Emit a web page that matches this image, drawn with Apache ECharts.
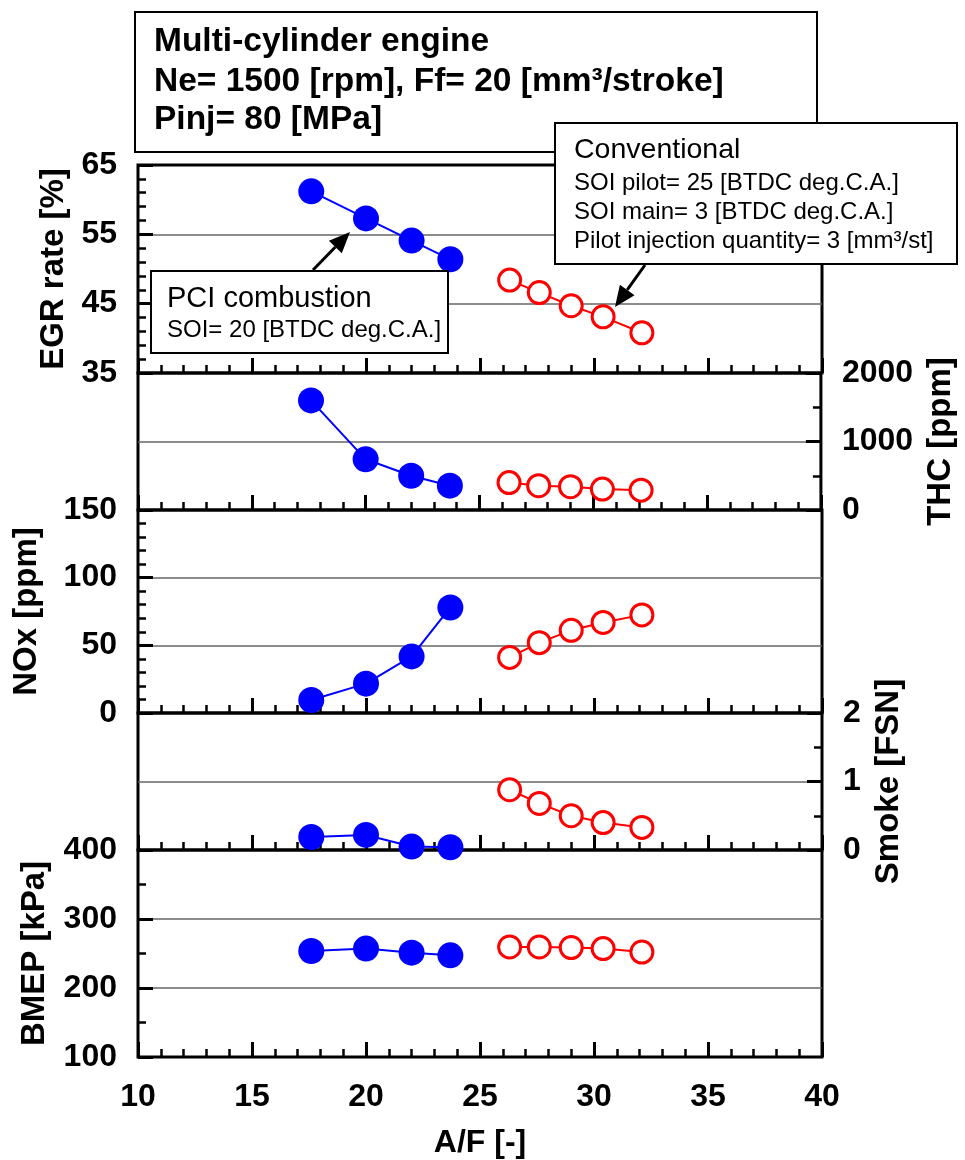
<!DOCTYPE html>
<html>
<head>
<meta charset="utf-8">
<title>Multi-cylinder engine: PCI vs conventional combustion</title>
<script src="https://cdn.jsdelivr.net/npm/echarts@6/dist/echarts.min.js"></script>
<style>
  html, body { margin: 0; padding: 0; background: #fff; }
  #chart { width: 965px; height: 1160px; }
</style>
</head>
<body>
<div id="chart"></div>
<script>
// Air/fuel ratio of each operating point
const afPCI  = [17.6, 20.0, 22.0, 23.7];
const afConv = [26.3, 27.6, 29.0, 30.4, 32.1];

// EGR rate [%]
const egrPCI  = [61.2, 57.3, 54.1, 51.4];
const egrConv = [48.4, 46.6, 44.7, 43.1, 40.8];

// THC [ppm]
const thcPCI  = [1600, 740, 500, 355];
const thcConv = [400, 355, 340, 305, 290];

// NOx [ppm]
const noxPCI  = [9.6, 21.7, 41.8, 78.0];
const noxConv = [41.1, 52.0, 61.1, 66.9, 72.5];

// Smoke [FSN]
const smokePCI  = [0.19, 0.22, 0.05, 0.04];
const smokeConv = [0.88, 0.68, 0.50, 0.40, 0.33];

// BMEP [kPa]
const bmepPCI  = [253.6, 257.1, 251.2, 247.3];
const bmepConv = [259.4, 259.4, 258.6, 257.1, 252.1];

// Tick labels of the shared A/F axis
const afTicks = [10, 15, 20, 25, 30, 35, 40];

const FONT = '"Liberation Sans", Arial, Helvetica, sans-serif';
const BLUE = '#0000ff';
const RED = '#ff0000';

// Stacked panels (top edges in px, last value is the bottom of the stack)
const edges = [165, 373, 510, 713, 850, 1057];
const panels = [
  { name: 'EGR rate [%]', side: 'left',  min: 35, max: 65,   interval: 10,   minor: 5, gap: 64, pci: egrPCI,   conv: egrConv },
  { name: 'THC [ppm]',    side: 'right', min: 0,  max: 2000, interval: 1000, minor: 2, gap: 100, pci: thcPCI,   conv: thcConv },
  { name: 'NOx [ppm]',    side: 'left',  min: 0,  max: 150,  interval: 50,   minor: 5, gap: 95, pci: noxPCI,   conv: noxConv },
  { name: 'Smoke [FSN]',  side: 'right', min: 0,  max: 2,    interval: 1,    minor: 2, gap: 50, pci: smokePCI, conv: smokeConv },
  { name: 'BMEP [kPa]',   side: 'left',  min: 100, max: 400, interval: 100,  minor: 2, gap: 87, pci: bmepPCI,  conv: bmepConv }
];

const tickStyle = { color: '#000', width: 3 };
const minorStyle = { color: '#000', width: 2.5 };
const labelStyle = { color: '#000', fontFamily: FONT, fontWeight: 'bold', fontSize: 32 };
const nameStyle = { color: '#000', fontFamily: FONT, fontWeight: 'bold', fontSize: 33 };
const plain = v => String(v);

const grids = [], xAxes = [], yAxes = [], series = [];
panels.forEach((p, i) => {
  const last = i === panels.length - 1;
  grids.push({
    left: 138, right: 143, top: edges[i], height: edges[i + 1] - edges[i],
    show: true, borderColor: '#000', borderWidth: 3, backgroundColor: 'transparent'
  });
  xAxes.push({
    gridIndex: i, type: 'value', min: afTicks[0], max: afTicks[afTicks.length - 1], interval: 5,
    axisLine: { show: false },
    axisTick: { show: true, inside: true, length: 15, lineStyle: tickStyle },
    minorTick: { show: true, splitNumber: 5, length: 8, lineStyle: minorStyle },
    splitLine: { show: false },
    axisLabel: last ? Object.assign({ show: true, margin: 24, formatter: plain }, labelStyle) : { show: false },
    name: last ? 'A/F [-]' : '',
    nameLocation: 'middle', nameGap: 70,
    nameTextStyle: Object.assign({}, nameStyle, { fontSize: 32 })
  });
  yAxes.push({
    gridIndex: i, type: 'value', position: p.side,
    min: p.min, max: p.max, interval: p.interval,
    axisLine: { show: false },
    axisTick: { show: true, inside: true, length: 15, lineStyle: tickStyle },
    minorTick: { show: true, splitNumber: p.minor, length: 8, lineStyle: minorStyle },
    splitLine: { show: true, showMinLine: false, showMaxLine: false, lineStyle: { color: '#666', width: 1.5 } },
    axisLabel: Object.assign({ margin: 21, showMinLabel: true, showMaxLabel: true, formatter: plain }, labelStyle),
    name: p.name, nameLocation: 'middle', nameRotate: 90, nameGap: p.gap,
    nameTextStyle: nameStyle
  });
  series.push({
    type: 'line', xAxisIndex: i, yAxisIndex: i, z: 3,
    data: afPCI.map((x, k) => [x, p.pci[k]]),
    symbol: 'circle', symbolSize: 26,
    lineStyle: { color: BLUE, width: 2 },
    itemStyle: { color: BLUE, borderWidth: 0 }
  });
  series.push({
    type: 'line', xAxisIndex: i, yAxisIndex: i, z: 3,
    data: afConv.map((x, k) => [x, p.conv[k]]),
    symbol: 'circle', symbolSize: 22,
    lineStyle: { color: RED, width: 2 },
    itemStyle: { color: '#fff', borderColor: RED, borderWidth: 3 }
  });
});

// Annotation helpers
function txt(x, y, text, size, bold) {
  return {
    type: 'text', z: 60, silent: true,
    style: {
      x: x, y: y, text: text, fill: '#000',
      fontFamily: FONT, fontSize: size, fontWeight: bold ? 'bold' : 'normal',
      align: 'left', verticalAlign: 'middle',
      textAlign: 'left', textVerticalAlign: 'middle'
    }
  };
}
function box(x, y, w, h) {
  return {
    type: 'rect', z: 55, silent: true,
    shape: { x: x, y: y, width: w, height: h },
    style: { fill: '#fff', stroke: '#000', lineWidth: 2 }
  };
}
function arrow(x1, y1, x2, y2) {
  const dx = x2 - x1, dy = y2 - y1, L = Math.hypot(dx, dy);
  const ux = dx / L, uy = dy / L, hl = 21, hw = 9;
  const bx = x2 - ux * hl, by = y2 - uy * hl;
  return [
    { type: 'line', z: 58, silent: true, shape: { x1: x1, y1: y1, x2: bx, y2: by },
      style: { stroke: '#000', lineWidth: 3 } },
    { type: 'polygon', z: 58, silent: true,
      shape: { points: [[x2, y2], [bx - uy * hw, by + ux * hw], [bx + uy * hw, by - ux * hw]] },
      style: { fill: '#000' } }
  ];
}

const graphics = [
  // Test conditions
  box(135, 12, 682, 140),
  txt(154, 42, 'Multi-cylinder engine', 33.5, true),
  txt(154, 82, 'Ne= 1500 [rpm], Ff= 20 [mm³/stroke]', 33.5, true),
  txt(154, 120, 'Pinj= 80 [MPa]', 33.5, true),
  // Conventional combustion settings
  box(555, 123, 402, 141),
  txt(574, 150, 'Conventional', 28.5, false),
  txt(574, 183.5, 'SOI pilot= 25 [BTDC deg.C.A.]', 24, false),
  txt(574, 212, 'SOI main= 3 [BTDC deg.C.A.]', 24, false),
  txt(574, 241, 'Pilot injection quantity= 3 [mm³/st]', 24, false),
  // PCI combustion settings
  box(151, 271, 297, 82),
  txt(167, 298.5, 'PCI combustion', 29, false),
  txt(167, 330.5, 'SOI= 20 [BTDC deg.C.A.]', 24, false)
].concat(arrow(313, 270, 350, 232), arrow(645, 265, 615, 307));

const chart = echarts.init(document.getElementById('chart'), null, { renderer: 'canvas' });
chart.setOption({
  backgroundColor: '#fff',
  animation: false,
  textStyle: { fontFamily: FONT },
  grid: grids,
  xAxis: xAxes,
  yAxis: yAxes,
  series: series,
  graphic: { elements: graphics }
});
</script>
</body>
</html>
